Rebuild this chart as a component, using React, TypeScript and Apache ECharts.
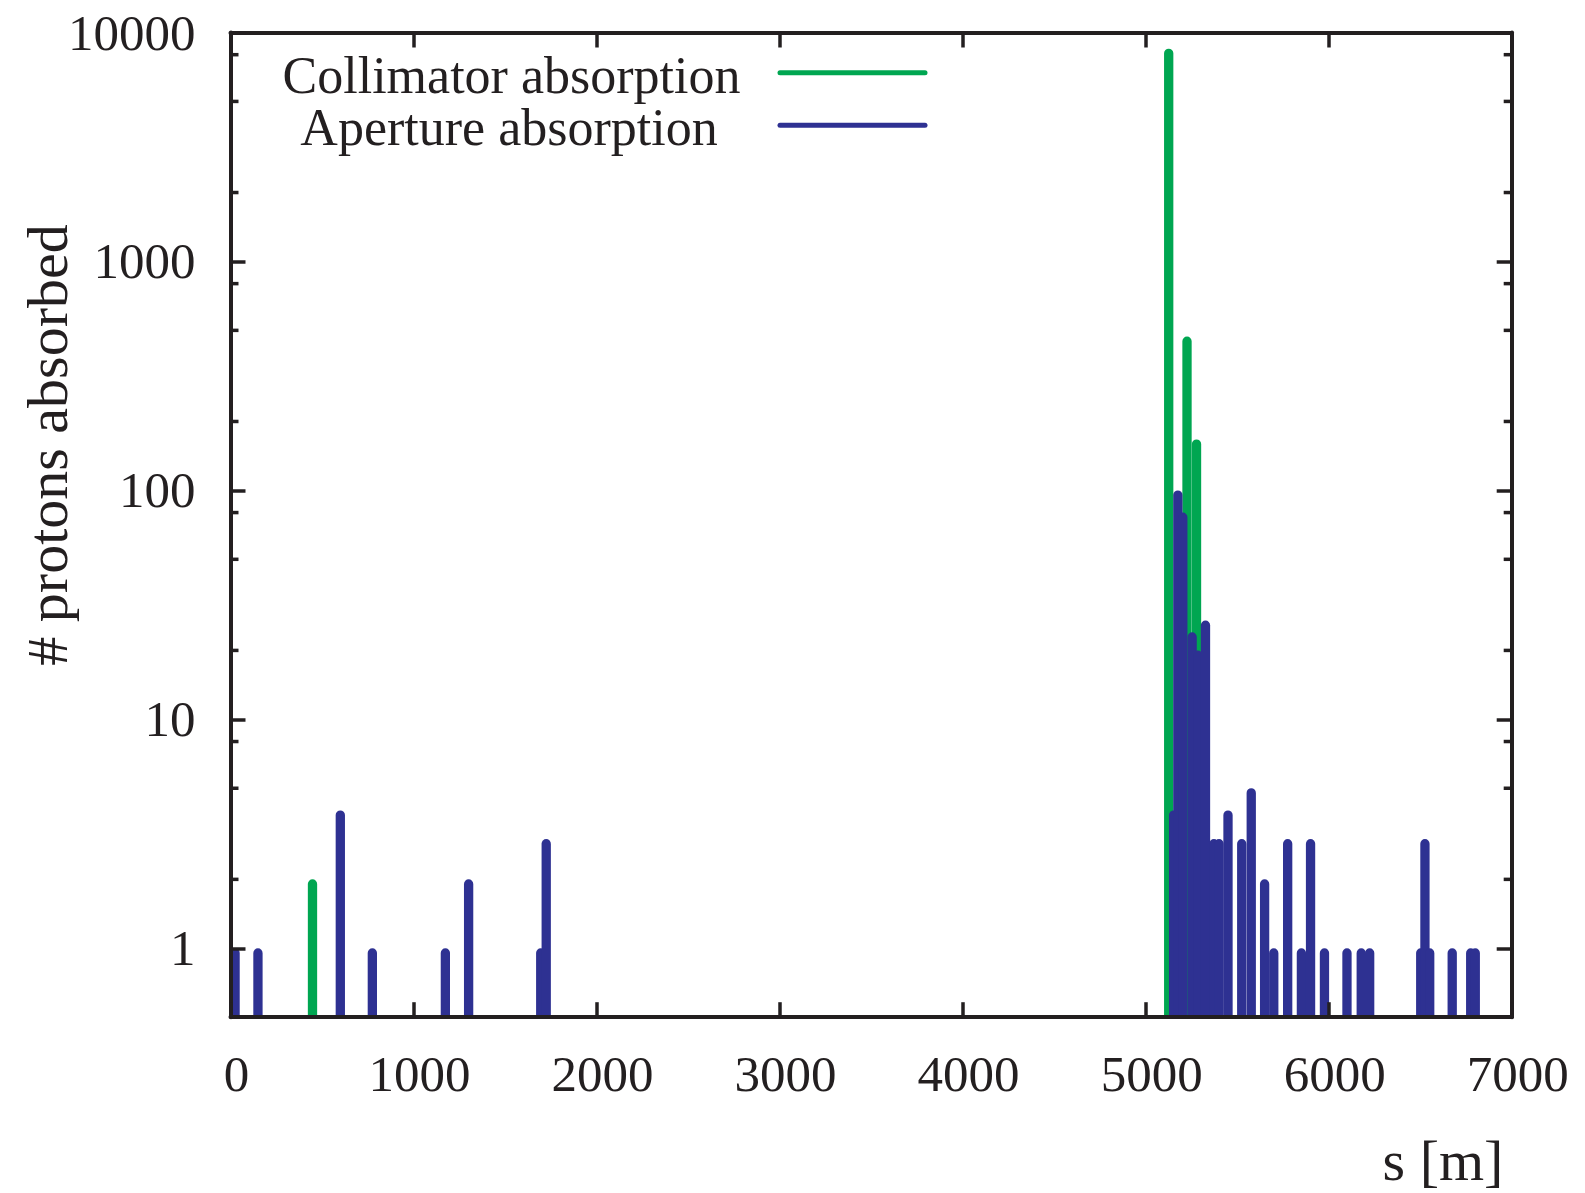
import React, { useEffect, useRef } from "react";
import * as echarts from "echarts";

// ---- data ----
const collimatorS = [448, 5126, 5226, 5278];
const collimatorN = [2, 8500, 470, 167];

const apertureS = [
  25, 150, 600, 775, 1174, 1301, 1695, 1725,
  5153, 5176, 5203, 5254, 5285, 5327, 5373, 5401, 5450, 5525, 5577, 5650,
  5700, 5776, 5851, 5901, 5977, 6100, 6178, 6224, 6503, 6526, 6552, 6675,
  6776, 6801,
];
const apertureN = [
  1, 1, 4, 1, 1, 2, 1, 3,
  4, 100, 80, 24, 20, 27, 3, 3, 4, 3, 5, 2,
  1, 3, 1, 3, 1, 1, 1, 1, 1, 3, 1, 1,
  1, 1,
];

const xMin = 0;
const xMax = 7000;
const xInterval = 1000;
const yMin = 0.5;
const yMax = 10000;
const minorTickValues = [2, 5, 8, 20, 50, 80, 200, 500, 800, 2000, 5000, 8000];

const seriesNames = ["Collimator absorption", "Aperture absorption"];
const xTitle = "s [m]";
const yTitle = "# protons absorbed";

// ---- styles ----
const GREEN = "#00a651";
const BLUE = "#2e3192";
const INK = "#231f20";
const FONT = "Liberation Serif";
const BAR_PX = 9.3;

function barRender(color: string) {
  return (params: any, api: any) => {
    const s = api.value(0);
    const n = api.value(1);
    const top = api.coord([s, n]);
    const base = api.coord([s, yMin]);
    return {
      type: "rect",
      shape: {
        x: top[0] - BAR_PX / 2,
        y: top[1],
        width: BAR_PX,
        height: base[1] - top[1] + 4,
        r: [BAR_PX / 2, BAR_PX / 2, 0, 0],
      },
      style: { fill: color },
    };
  };
}

export default function App() {
  const ref = useRef<HTMLDivElement>(null);

  useEffect(() => {
    if (!ref.current) return;
    const chart = echarts.init(ref.current, undefined, { renderer: "svg" });

    const axisLine = { show: true, onZero: false, lineStyle: { color: INK, width: 4 } };
    const majorTick = {
      show: true,
      inside: true,
      length: 15,
      lineStyle: { color: INK, width: 3.5 },
    };

    const option: any = {
      animation: false,
      backgroundColor: "#ffffff",
      grid: { left: 230.5, right: 73.3, top: 32.5, bottom: 175.8, containLabel: false },
      xAxis: [
        {
          type: "value",
          position: "bottom",
          min: xMin,
          max: xMax,
          interval: xInterval,
          axisLine,
          axisTick: majorTick,
          splitLine: { show: false },
          z: 10,
          axisLabel: {
            fontFamily: FONT,
            fontSize: 51,
            lineHeight: 51,
            color: INK,
            margin: 31,
            padding: [0, 0, 0, 12],
            formatter: (v: number) => String(v),
          },
        },
        {
          type: "value",
          position: "top",
          min: xMin,
          max: xMax,
          interval: xInterval,
          axisLine,
          axisTick: majorTick,
          splitLine: { show: false },
          axisLabel: { show: false },
          z: 10,
        },
      ],
      yAxis: [
        {
          type: "log",
          logBase: 10,
          position: "left",
          min: yMin,
          max: yMax,
          axisLine,
          axisTick: majorTick,
          splitLine: { show: false },
          minorTick: { show: false },
          z: 10,
          axisLabel: {
            fontFamily: FONT,
            fontSize: 51,
            color: INK,
            margin: 35,
            formatter: (v: number) => (v >= 1 ? String(Math.round(v)) : ""),
          },
        },
        {
          type: "log",
          logBase: 10,
          position: "right",
          min: yMin,
          max: yMax,
          axisLine,
          axisTick: majorTick,
          splitLine: { show: false },
          axisLabel: { show: false },
          z: 10,
        },
      ],
      series: [
        {
          type: "custom",
          name: seriesNames[0],
          xAxisIndex: 0,
          yAxisIndex: 0,
          clip: true,
          z: 2,
          renderItem: barRender(GREEN),
          data: collimatorS.map((s, i) => [s, collimatorN[i]]),
        },
        {
          type: "custom",
          name: seriesNames[1],
          xAxisIndex: 0,
          yAxisIndex: 0,
          clip: true,
          z: 3,
          renderItem: barRender(BLUE),
          data: apertureS.map((s, i) => [s, apertureN[i]]),
        },
        {
          type: "custom",
          name: "minorTicks",
          xAxisIndex: 0,
          yAxisIndex: 0,
          clip: false,
          z: 11,
          silent: true,
          renderItem: (params: any, api: any) => {
            const v = api.value(1);
            const l = api.coord([xMin, v]);
            const r = api.coord([xMax, v]);
            return {
              type: "group",
              children: [
                {
                  type: "line",
                  shape: { x1: l[0], y1: l[1], x2: l[0] + 8, y2: l[1] },
                  style: { stroke: INK, lineWidth: 3.5 },
                },
                {
                  type: "line",
                  shape: { x1: r[0], y1: r[1], x2: r[0] - 8, y2: r[1] },
                  style: { stroke: INK, lineWidth: 3.5 },
                },
              ],
            };
          },
          data: minorTickValues.map((v) => [xMin, v]),
        },
      ],
      graphic: [
        {
          type: "text",
          x: 511.5,
          y: 75,
          style: {
            text: seriesNames[0],
            fontFamily: FONT,
            fontSize: 52,
            fill: INK,
            align: "center",
            verticalAlign: "middle",
          },
        },
        {
          type: "line",
          shape: { x1: 780, y1: 72.8, x2: 925, y2: 72.8 },
          style: { stroke: GREEN, lineWidth: 5, lineCap: "round" },
        },
        {
          type: "text",
          x: 509,
          y: 127,
          style: {
            text: seriesNames[1],
            fontFamily: FONT,
            fontSize: 52,
            fill: INK,
            align: "center",
            verticalAlign: "middle",
          },
        },
        {
          type: "line",
          shape: { x1: 780, y1: 125.3, x2: 925, y2: 125.3 },
          style: { stroke: BLUE, lineWidth: 5, lineCap: "round" },
        },
        {
          type: "text",
          x: 47,
          y: 445,
          rotation: Math.PI / 2,
          style: {
            text: yTitle,
            fontFamily: FONT,
            fontSize: 58,
            fill: INK,
            align: "center",
            verticalAlign: "middle",
          },
        },
        {
          type: "text",
          x: 1443,
          y: 1160,
          style: {
            text: xTitle,
            fontFamily: FONT,
            fontSize: 58,
            fill: INK,
            align: "center",
            verticalAlign: "middle",
          },
        },
      ],
    };

    chart.setOption(option);
    return () => chart.dispose();
  }, []);

  return (
    <div
      ref={ref}
      style={{
        position: "fixed",
        left: 0,
        top: 0,
        width: 1585,
        height: 1193,
        background: "#ffffff",
      }}
    />
  );
}
